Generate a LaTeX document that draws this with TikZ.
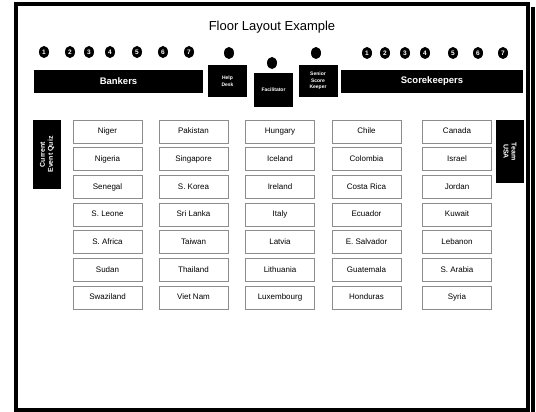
\documentclass[tikz,border=0pt]{standalone}
\usepackage{fontspec}
\setmainfont{Liberation Sans}
\definecolor{BoxLine}{gray}{0.55}
\usetikzlibrary{shapes.geometric, positioning}

\tikzset{
  seat/.style={ellipse, fill=black, text=white, inner sep=0pt, minimum width=10pt, minimum height=12pt, font=\bfseries\fontsize{6.5}{6.5}\selectfont},
  chair/.style={ellipse, fill=black, inner sep=0pt, minimum width=10pt, minimum height=12pt},
  bar/.style={fill=black, text=white, inner sep=0pt, minimum height=23pt, font=\bfseries\fontsize{9.5}{11}\selectfont},
  desk/.style={fill=black, text=white, inner sep=0pt, minimum width=39pt, align=center, font=\bfseries\fontsize{5}{6.5}\selectfont},
  country/.style={draw=BoxLine, line width=0.9pt, fill=white, inner sep=0pt, minimum width=69pt, minimum height=23pt, text height=6pt, text depth=1.7pt, font=\fontsize{8}{9}\selectfont},
  side/.style={fill=black, text=white, inner sep=0pt, minimum height=28pt, align=center, font=\bfseries\fontsize{7}{8}\selectfont}
}

\begin{document}
\begin{tikzpicture}[x=1pt,y=-1pt]
\useasboundingbox (0,0) rectangle (536,412);
%frame
\draw[line width=4pt] (16,4) rectangle (528,410);
\fill (531,7) rectangle (535,412);
%title
\node (title) at (272,27) {\fontsize{13}{15}\selectfont Floor Layout Example};
%seats
\foreach \x [count=\n] in {44,70,89,110,137,163,189}
  \node[seat] (bank\n) at (\x,52) {\n};
\foreach \x [count=\n] in {367,385,405,425,453,478,503}
  \node[seat] (score\n) at (\x,53) {\n};
\node[chair] (helpseat) at (229,53) {};
\node[chair] (facseat) at (272,63) {};
\node[chair] (seniorseat) at (316,53) {};
%desks
\node[bar, minimum width=169pt] (bankers) at (118.5,81.5) {Bankers};
\node[bar, minimum width=182pt] (scorekeepers) at (432,81.5) {Scorekeepers};
\node[desk, minimum height=32pt] (helpdesk) at (227.5,81) {Help\\Desk};
\node[desk, minimum height=34pt] (facilitator) at (273.5,90) {Facilitator};
\node[desk, minimum height=32pt] (senior) at (318,81) {Senior\\Score\\Keeper};
%side tables
\node[side, minimum width=69pt, rotate=90] (quiz) at (47,154.5) {Current\\Event Quiz};
\node[side, minimum width=63pt, rotate=-90] (usa) at (510,151.5) {Team\\USA};
%countries
\foreach \name [count=\r] in {Niger,Nigeria,Senegal,S. Leone,S. Africa,Sudan,Swaziland}
  \node[country] (colA\r) at (107.5,{131.5+27.7*(\r-1)}) {\name};
\foreach \name [count=\r] in {Pakistan,Singapore,S. Korea,Sri Lanka,Taiwan,Thailand,Viet Nam}
  \node[country] (colB\r) at (193.5,{131.5+27.7*(\r-1)}) {\name};
\foreach \name [count=\r] in {Hungary,Iceland,Ireland,Italy,Latvia,Lithuania,Luxembourg}
  \node[country] (colC\r) at (280,{131.5+27.7*(\r-1)}) {\name};
\foreach \name [count=\r] in {Chile,Colombia,Costa Rica,Ecuador,E. Salvador,Guatemala,Honduras}
  \node[country] (colD\r) at (366.5,{131.5+27.7*(\r-1)}) {\name};
\foreach \name [count=\r] in {Canada,Israel,Jordan,Kuwait,Lebanon,S. Arabia,Syria}
  \node[country] (colE\r) at (457,{131.5+27.7*(\r-1)}) {\name};
\end{tikzpicture}
\end{document}
